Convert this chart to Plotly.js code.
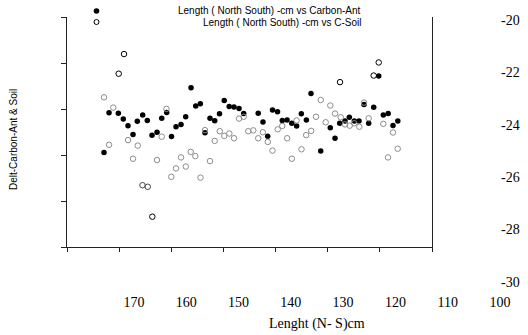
<!DOCTYPE html>
<html>
<head>
<meta charset="utf-8">
<script src="https://cdn.plot.ly/plotly-3.0.1.min.js"></script>
<style>html,body{margin:0;padding:0;background:#fff;}#chart{width:528px;height:335px;}</style>
</head>
<body>
<div id="chart"></div>
<script>
// ---- data ----
const xCarbon = [175.72,174.76,172.98,172.03,171.13,170.17,169.35,168.32,167.44,166.54,165.58,164.68,163.73,162.81,161.95,160.99,160.10,159.08,158.18,157.30,156.41,155.45,154.55,153.63,152.73,151.78,150.86,149.90,149.01,146.23,145.32,144.42,143.50,142.54,141.63,140.71,139.81,138.89,137.99,137.02,136.14,134.28,132.45,131.55,130.65,129.64,128.81,127.86,126.96,126.00,125.11,124.15,123.19,122.31,121.38,120.46,119.54];
const yCarbon = [-25.06,-23.55,-23.57,-23.79,-24.04,-24.38,-23.87,-23.63,-23.84,-24.41,-24.29,-23.76,-23.54,-24.45,-24.08,-24.00,-23.70,-22.59,-23.29,-23.20,-24.31,-23.76,-23.85,-23.59,-23.08,-23.31,-23.33,-23.39,-23.58,-23.57,-23.90,-24.44,-23.44,-23.51,-23.84,-23.82,-23.95,-24.05,-23.59,-23.82,-22.81,-25.01,-24.12,-24.52,-23.95,-23.86,-23.72,-23.86,-23.86,-23.23,-23.95,-23.34,-22.15,-23.63,-23.58,-24.03,-23.86];
const xSoil = [175.72,174.76,173.94,172.91,171.89,171.13,170.17,169.27,168.36,167.36,166.48,165.58,164.68,163.77,162.85,161.95,160.99,160.08,159.14,158.26,157.27,156.41,155.45,154.55,153.58,152.72,151.76,150.86,149.90,149.01,148.13,147.17,146.23,145.35,144.40,143.50,142.50,141.63,140.69,139.81,138.89,137.95,137.06,136.10,135.18,134.28,133.33,132.45,131.55,130.59,130.46,129.64,128.74,127.86,126.90,126.00,125.11,124.15,123.19,122.31,121.41,120.46,119.56];
const ySoil = [-22.96,-24.77,-23.35,-22.06,-21.31,-24.59,-25.30,-24.80,-26.31,-26.37,-27.51,-25.35,-24.46,-23.40,-25.99,-25.67,-25.25,-25.60,-25.04,-25.20,-26.02,-24.21,-25.39,-24.62,-24.25,-24.43,-24.34,-24.52,-23.77,-23.70,-24.25,-24.22,-24.52,-24.29,-24.66,-24.99,-24.18,-24.05,-24.52,-25.30,-23.84,-24.94,-24.40,-24.24,-23.70,-23.06,-23.91,-23.27,-23.58,-22.38,-23.72,-23.99,-24.04,-23.95,-24.08,-23.16,-23.76,-22.13,-21.63,-23.97,-25.25,-24.30,-24.92];
const xTickVals = [170,160,150,140,130,120,110,100];
const yTickVals = [-30,-28,-26,-24,-22,-20];
const yTickText = ['-30','-28','-26','-24','-22','-20'];
const seriesNames = ['Length ( North South) -cm vs Carbon-Ant','Length ( North South) -cm vs C-Soil'];
const xTitle = 'Lenght (N- S)cm';
const yTitle = 'Delt-Carbon-Ant & Soil';

// ---- style ----
const W = 528, H = 335;
const M = {l:62, r:28, t:16, b:52};
const PW = W - M.l - M.r, PH = H - M.t - M.b;
const px = x => (x - M.l) / PW;
const py = y => (H - M.b - y) / PH;
const darkSoil = [3,4,10,49,57,58];
const midSoil = [8,9];
const soilColors = ySoil.map((_, i) => darkSoil.includes(i) ? '#000000' : (midSoil.includes(i) ? '#444444' : '#8c8c8c'));
const serif = 'Liberation Serif, Times New Roman, serif';
const sans = 'Liberation Sans, Arial, sans-serif';
const lineCol = '#222';

const traces = [
  {x: xCarbon, y: yCarbon, type: 'scatter', mode: 'markers', name: seriesNames[0],
   marker: {symbol: 'circle', size: 5.5, color: '#000', line: {width: 0}}, cliponaxis: false, hoverinfo: 'skip'},
  {x: xSoil, y: ySoil, type: 'scatter', mode: 'markers', name: seriesNames[1],
   marker: {symbol: 'circle-open', size: 5.5, color: soilColors, line: {width: 1}}, cliponaxis: false, hoverinfo: 'skip'},
  {x: [], y: [], xaxis: 'x2', yaxis: 'y2', type: 'scatter', mode: 'markers', showlegend: false, hoverinfo: 'skip'}
];

const layout = {
  width: W, height: H,
  margin: M,
  paper_bgcolor: '#fff', plot_bgcolor: 'rgba(0,0,0,0)',
  showlegend: false, hovermode: false,
  xaxis: {range: [183.75, 100], tickvals: xTickVals, ticks: '', showline: false, showgrid: false, zeroline: false,
          tickfont: {family: serif, size: 14, color: '#000'}, ticklabelstandoff: 9},
  yaxis: {range: [-30.038, -19.859], side: 'right', tickvals: yTickVals, ticktext: yTickText, ticks: '',
          showline: false, showgrid: false, zeroline: false, tickfont: {family: serif, size: 14, color: '#000'}},
  xaxis2: {domain: [px(67), px(432)], anchor: 'y2', range: [0, 7], tickvals: [0,1,2,3,4,5,6,7], ticks: 'outside', ticklen: 4,
           tickcolor: lineCol, showticklabels: false, showline: true, linecolor: lineCol, linewidth: 1, showgrid: false, zeroline: false},
  yaxis2: {domain: [py(247), py(17)], anchor: 'x2', range: [0, 5], tickvals: [0,1,2,3,4,5], ticks: 'outside', ticklen: 5,
           tickcolor: lineCol, showticklabels: false, showline: true, mirror: true, linecolor: lineCol, linewidth: 1, showgrid: false, zeroline: false},
  annotations: [
    {text: seriesNames[0], xref: 'paper', yref: 'paper', x: px(363), y: py(11), xanchor: 'right', yanchor: 'middle', showarrow: false,
     font: {family: sans, size: 10, color: '#000'}},
    {text: seriesNames[1], xref: 'paper', yref: 'paper', x: px(363), y: py(22), xanchor: 'right', yanchor: 'middle', showarrow: false,
     font: {family: sans, size: 10, color: '#000'}},
    {text: yTitle, xref: 'paper', yref: 'paper', x: px(13), y: py(140), xanchor: 'center', yanchor: 'middle', textangle: -90, showarrow: false,
     font: {family: sans, size: 10, color: '#000'}},
    {text: xTitle, xref: 'paper', yref: 'paper', x: px(317), y: py(324), xanchor: 'center', yanchor: 'middle', showarrow: false,
     font: {family: serif, size: 14, color: '#000'}}
  ],
  shapes: [
    {type: 'circle', xref: 'paper', yref: 'paper', xsizemode: 'pixel', ysizemode: 'pixel', xanchor: px(96.5), yanchor: py(11),
     x0: -2.8, x1: 2.8, y0: -2.8, y1: 2.8, fillcolor: '#000', line: {width: 0}},
    {type: 'circle', xref: 'paper', yref: 'paper', xsizemode: 'pixel', ysizemode: 'pixel', xanchor: px(96.5), yanchor: py(22),
     x0: -2.5, x1: 2.5, y0: -2.5, y1: 2.5, fillcolor: 'rgba(0,0,0,0)', line: {width: 1, color: '#000'}}
  ]
};

Plotly.newPlot('chart', traces, layout, {displayModeBar: false, staticPlot: true});
</script>
</body>
</html>
